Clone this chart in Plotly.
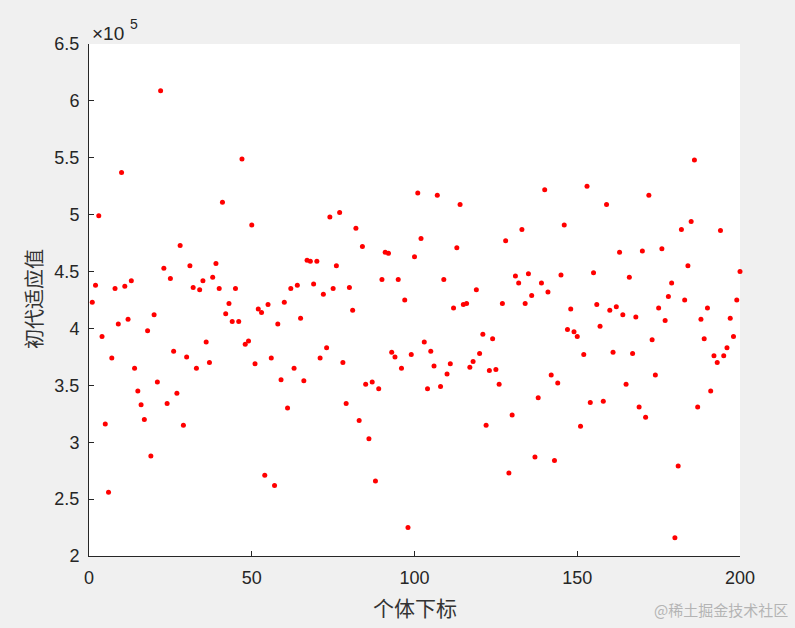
import plotly.graph_objects as go

# Fitness of initial population (units of 1e5)
scale = 1e5
individual_index = list(range(1, 201))
fitness_e5 = [
    4.23, 4.38, 4.99, 3.93, 3.16, 2.56, 3.74, 4.35, 4.04, 5.37,
    4.37, 4.08, 4.42, 3.65, 3.45, 3.33, 3.20, 3.98, 2.88, 4.12,
    3.53, 6.09, 4.53, 3.34, 4.44, 3.80, 3.43, 4.73, 3.15, 3.75,
    4.55, 4.36, 3.65, 4.34, 4.42, 3.88, 3.70, 4.45, 4.57, 4.35,
    5.11, 4.13, 4.22, 4.06, 4.35, 4.06, 5.49, 3.86, 3.89, 4.91,
    3.69, 4.17, 4.14, 2.71, 4.21, 3.74, 2.62, 4.04, 3.55, 4.23,
    3.30, 4.35, 3.65, 4.38, 4.09, 3.54, 4.60, 4.59, 4.39, 4.59,
    3.74, 4.30, 3.83, 4.98, 4.35, 4.55, 5.02, 3.70, 3.34, 4.36,
    4.16, 4.88, 3.19, 4.72, 3.51, 3.03, 3.53, 2.66, 3.47, 4.43,
    4.67, 4.66, 3.79, 3.75, 4.43, 3.65, 4.25, 2.25, 3.77, 4.63,
    5.19, 4.79, 3.88, 3.47, 3.80, 3.67, 5.17, 3.49, 4.43, 3.60,
    3.69, 4.18, 4.71, 5.09, 4.21, 4.22, 3.66, 3.71, 4.34, 3.78,
    3.95, 3.15, 3.63, 3.91, 3.64, 3.51, 4.22, 4.77, 2.73, 3.24,
    4.46, 4.40, 4.87, 4.22, 4.48, 4.29, 2.87, 3.39, 4.40, 5.22,
    4.32, 3.59, 2.84, 3.52, 4.47, 4.91, 3.99, 4.17, 3.97, 3.93,
    3.14, 3.77, 5.25, 3.35, 4.49, 4.21, 4.02, 3.36, 5.09, 4.16,
    3.79, 4.19, 4.67, 4.12, 3.51, 4.45, 3.78, 4.10, 3.31, 4.68,
    3.22, 5.17, 3.90, 3.59, 4.18, 4.70, 4.07, 4.28, 4.40, 2.16,
    2.79, 4.87, 4.25, 4.55, 4.94, 5.48, 3.31, 4.08, 3.91, 4.18,
    3.45, 3.76, 3.70, 4.86, 3.76, 3.83, 4.09, 3.93, 4.25, 4.50,
]
fitness = [v * scale for v in fitness_e5]

y_tick_labels = ["2", "2.5", "3", "3.5", "4", "4.5", "5", "5.5", "6", "6.5"]
y_tick_vals = [float(t) * scale for t in y_tick_labels]
x_tick_vals = [0, 50, 100, 150, 200]

W, H = 795, 628
L, R, T, B = 89, 55, 44, 72
PW, PH = W - L - R, H - T - B

def px_x(px):
    return (px - L) / PW

def px_y(py):
    return (H - B - py) / PH

axis_color = "#262626"
latin = "Liberation Sans, Arial, sans-serif"
cjk = "Noto Sans CJK SC, sans-serif"
tick_font = dict(family=latin, size=18, color=axis_color)

fig = go.Figure()
fig.add_trace(go.Scatter(
    x=individual_index, y=fitness, mode="markers",
    marker=dict(color="#ff0000", size=5, line=dict(width=0)),
    cliponaxis=False, showlegend=False,
))

fig.update_layout(
    width=W, height=H,
    paper_bgcolor="#f0f0f0", plot_bgcolor="#ffffff",
    margin=dict(l=L, r=R, t=T, b=B),
    xaxis=dict(
        range=[0, 200], tickvals=x_tick_vals, ticks="inside", ticklen=5,
        tickcolor=axis_color, showline=True, linecolor=axis_color, linewidth=1,
        showgrid=False, zeroline=False, tickfont=tick_font, ticklabelstandoff=5,
    ),
    yaxis=dict(
        range=[2 * scale, 6.5 * scale], tickvals=y_tick_vals, ticktext=y_tick_labels,
        ticks="inside", ticklen=5, tickcolor=axis_color, showline=True,
        linecolor=axis_color, linewidth=1, showgrid=False, zeroline=False,
        tickfont=tick_font, ticklabelstandoff=5,
    ),
    annotations=[
        dict(text="个体下标", x=px_x(415), y=px_y(607), xref="paper", yref="paper",
             xanchor="center", yanchor="middle", showarrow=False,
             font=dict(family=cjk, size=21, color="#333333")),
        dict(text="初代适应值", x=px_x(33), y=px_y(299), xref="paper", yref="paper",
             xanchor="center", yanchor="middle", showarrow=False, textangle=-90,
             font=dict(family=cjk, size=20, color="#333333")),
        dict(text="×10", x=px_x(90), y=px_y(33), xref="paper", yref="paper",
             xanchor="left", yanchor="middle", showarrow=False,
             font=dict(family=latin, size=19, color=axis_color)),
        dict(text="5", x=px_x(128), y=px_y(24), xref="paper", yref="paper",
             xanchor="left", yanchor="middle", showarrow=False,
             font=dict(family=latin, size=14, color=axis_color)),
        dict(text="@稀土掘金技术社区", x=px_x(790), y=px_y(609), xref="paper", yref="paper",
             showarrow=False, xanchor="right", yanchor="middle",
             font=dict(family=cjk, size=15, color="#b4b4b4")),
    ],
)

fig.write_html(
    "out.html",
    config={"displayModeBar": False},
    post_script="document.body.style.margin='0';document.body.style.overflow='hidden';",
)
